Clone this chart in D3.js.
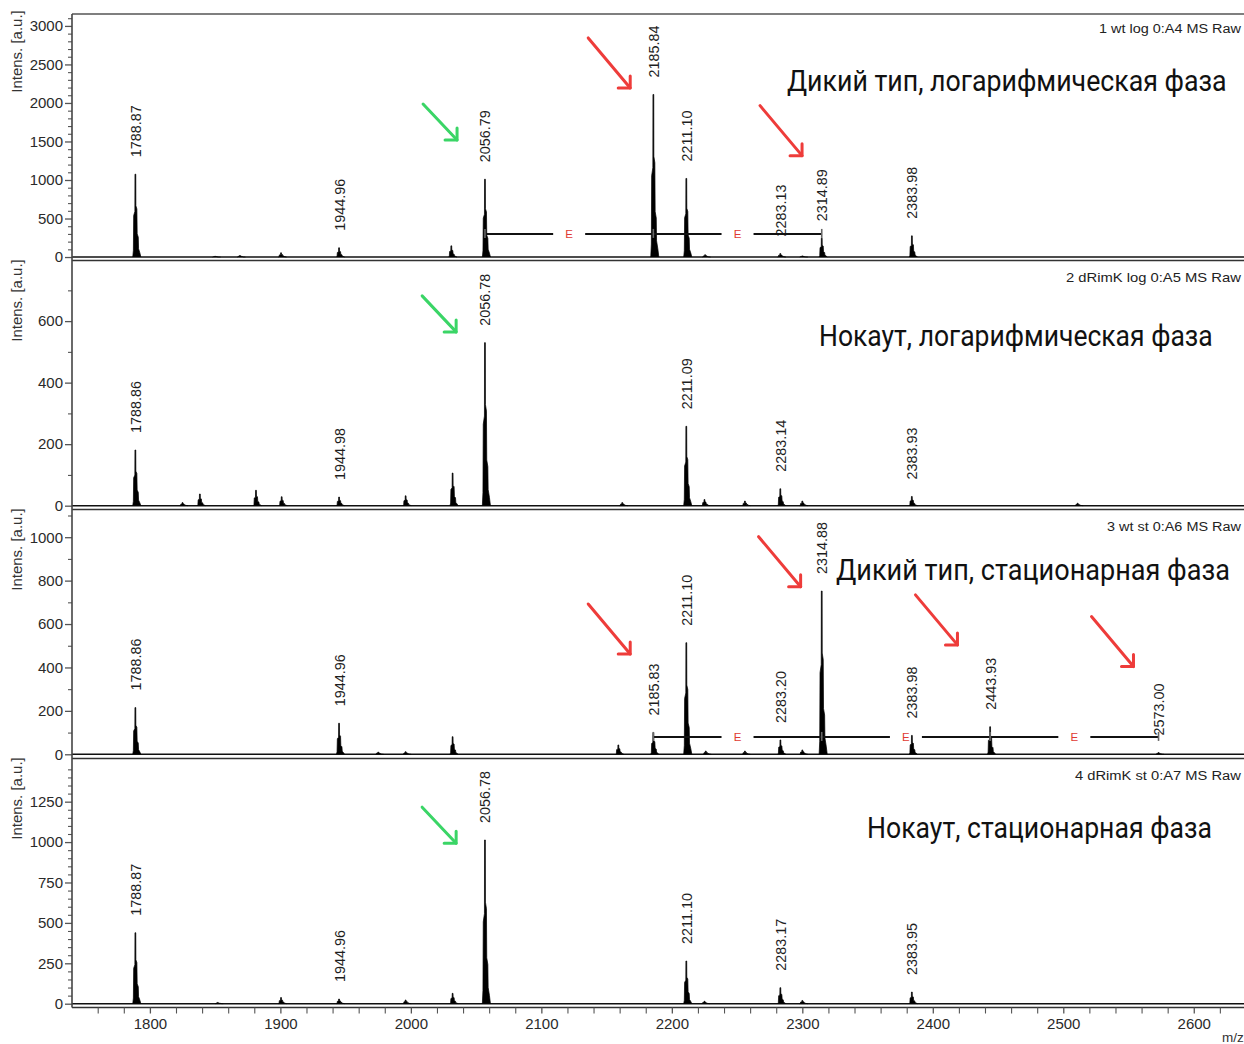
<!DOCTYPE html>
<html><head><meta charset="utf-8">
<script src="https://cdn.jsdelivr.net/npm/d3@7"></script>
<style>body{margin:0;background:#fff}svg{display:block}</style>
</head><body>
<script>
// ---------------- DATA ----------------
const panelHeaders = ["1 wt log 0:A4 MS Raw", "2 dRimK log 0:A5 MS Raw", "3 wt st 0:A6 MS Raw", "4 dRimK st 0:A7 MS Raw"];
const panelTitles = ["Дикий тип, логарифмическая фаза", "Нокаут, логарифмическая фаза", "Дикий тип, стационарная фаза", "Нокаут, стационарная фаза"];
const yAxisTitle = "Intens. [a.u.]";
const xAxisTitle = "m/z";

const xDomain = [1740.3, 2638.5];
const xMajorTicks = [1800, 1900, 2000, 2100, 2200, 2300, 2400, 2500, 2600];
const xMinorStep = 20;

const yMin = [-45, -12.4, -19.4, -23.5];
const yMax = [3191, 798, 1129, 1519];
const yMajorStep = [500, 200, 200, 250];
const yMajorLast = [3000, 600, 1000, 1250];
const yMinorStep = [100, 100, 100, 50];

// labelled peaks [m/z, intensity]
const peaks1 = [[1788.87, 1075], [1944.96, 120], [2056.79, 1010], [2185.84, 2110], [2211.10, 1020], [2283.13, 45], [2314.89, 245], [2383.98, 275]];
const peaks2 = [[1788.86, 181], [1944.98, 28], [2056.78, 530], [2211.09, 258], [2283.14, 55], [2383.93, 30]];
const peaks3 = [[1788.86, 215], [1944.96, 143], [2185.83, 100], [2211.10, 514], [2283.20, 66], [2314.88, 752], [2383.98, 87], [2443.93, 127], [2573.00, 8]];
const peaks4 = [[1788.87, 439], [1944.96, 29], [2056.78, 1013], [2211.10, 264], [2283.17, 99], [2383.95, 72]];

// small unlabelled peaks [m/z, intensity]
const minor1 = [[1869, 20], [1900.5, 55], [2031, 145], [2225.5, 30], [2300, 15], [1850, 10]];
const minor2 = [[1825, 10], [1838.3, 38], [1881.3, 50], [1901, 29], [1996, 32], [2032, 106], [2162, 10], [2225, 20], [2256, 15], [2300, 15], [2511, 8]];
const minor3 = [[1975, 10], [1996, 12], [2032, 81], [2159, 43], [2226, 15], [2256, 15], [2300, 20]];
const minor4 = [[1852, 8], [1900.5, 38], [1996, 23], [2032, 64], [2225, 15], [2300, 20]];

// mass-ladder brackets ("E" steps)
const ladder1 = [2056.79, 2185.84, 2314.89];
const ladder3 = [2185.83, 2314.88, 2443.93, 2573.00];
const ladderLevel = [300, null, 80, null];
const ladderLabel = "E";

// arrow tips [m/z, intensity, colour]
const arrows1 = [[2035.4, 1519, "green"], [2168.1, 2195, "red"], [2299.8, 1316, "red"]];
const arrows2 = [[2034.7, 565, "green"]];
const arrows3 = [[2168.1, 462, "red"], [2298.7, 772, "red"], [2418.9, 504, "red"], [2553.8, 404, "red"]];
const arrows4 = [[2034.7, 993, "green"]];

// ---------------- LAYOUT / STYLE ----------------
const W = 1244, H = 1044, LEFT = 72;
const PANEL_TOP0 = 11.2, PANEL_STEP = 249, PANEL_H = 249.3;
const titleLayout = [{right: 1227, base: 91, w: 440}, {right: 1213, base: 346, w: 394}, {right: 1230, base: 580, w: 394}, {right: 1212, base: 838, w: 345}];
const headerWidth = [142, 175, 134, 166];
const colors = {red: "#ee3c3a", green: "#3ad566"};
const GLYPH = [[-2.6, 0], [-2.0, 0.08], [-1.7, 0.5], [-0.5, 0.55], [-0.4, 1], [0.4, 1], [0.5, 0.62], [1.5, 0.58], [1.8, 0.28], [2.9, 0.24], [3.2, 0.1], [4.5, 0.05], [5.5, 0]];

const panels = [
  {peaks: peaks1, minor: minor1, ladder: ladder1, arrows: arrows1},
  {peaks: peaks2, minor: minor2, ladder: null, arrows: arrows2},
  {peaks: peaks3, minor: minor3, ladder: ladder3, arrows: arrows3},
  {peaks: peaks4, minor: minor4, ladder: null, arrows: arrows4}
];

const svg = d3.select("body").append("svg").attr("width", W).attr("height", H)
  .style("font-family", "'Liberation Sans', Arial, sans-serif");

const x = d3.scaleLinear().domain(xDomain).range([LEFT, W]);
const fmt = d3.format(".2f");
const intFmt = d3.format("d");

// fit a text to a width by horizontal scaling, right edge at `right`
function fitText(sel, right, base, width) {
  const nat = sel.node().getComputedTextLength();
  const sx = width / nat;
  sel.attr("x", 0).attr("y", 0)
     .attr("transform", `translate(${right - width},${base}) scale(${sx},1)`);
}

// top frame line
svg.append("line").attr("x1", LEFT).attr("x2", W).attr("y1", 14).attr("y2", 14)
  .attr("stroke", "#555").attr("stroke-width", 1.6);

panels.forEach((p, i) => {
  const T = PANEL_TOP0 + PANEL_STEP * i, B = T + PANEL_H;
  const y = d3.scaleLinear().domain([yMin[i], yMax[i]]).range([B, T]);
  const g = svg.append("g");

  // panel bottom line
  g.append("line").attr("x1", LEFT).attr("x2", W).attr("y1", B).attr("y2", B)
    .attr("stroke", "#333").attr("stroke-width", 1.6);

  // y axis
  const major = d3.range(0, yMajorLast[i] + 1, yMajorStep[i]);
  const minorT = d3.range(0, yMax[i], yMinorStep[i]).filter(v => v % yMajorStep[i] !== 0);
  const ax = g.append("g").attr("transform", `translate(${LEFT},0)`)
    .call(d3.axisLeft(y).tickValues(major).tickSize(7).tickPadding(2).tickFormat(intFmt));
  ax.select(".domain").remove();
  ax.selectAll("text").attr("font-size", 15).attr("fill", "#2a2a2a").attr("font-family", "'Liberation Sans', Arial, sans-serif");
  ax.selectAll("line").attr("stroke", "#555").attr("stroke-width", 1.3);
  const axm = g.append("g").attr("transform", `translate(${LEFT},0)`)
    .call(d3.axisLeft(y).tickValues(minorT).tickSize(4).tickFormat(""));
  axm.select(".domain").remove();
  axm.selectAll("line").attr("stroke", "#555").attr("stroke-width", 1.1);

  g.append("text").attr("transform", `translate(21.5,${T - 1}) rotate(-90)`)
    .attr("text-anchor", "end").attr("font-size", 15).attr("fill", "#333").text(yAxisTitle);

  // header
  const hd = g.append("text").attr("font-size", 13.5).attr("fill", "#222").text(panelHeaders[i]);
  fitText(hd, 1241, T + 22, headerWidth[i]);

  // baseline
  g.append("path").datum(xDomain)
    .attr("d", d3.line().x(d => x(d)).y(() => y(0)))
    .attr("stroke", "#111").attr("stroke-width", 1.6).attr("fill", "none");

  // peaks
  const pk = d3.line().x(d => d.cx + d.dx).y(d => d.yv);
  p.minor.concat(p.peaks).forEach(([mz, v]) => {
    const pts = GLYPH.map(([dx, f]) => ({cx: x(mz), dx: dx, yv: y(v * f)}));
    g.append("path").attr("d", pk(pts)).attr("fill", "#000").attr("stroke", "#000").attr("stroke-width", 0.7);
  });

  // peak labels
  p.peaks.forEach(([mz, v]) => {
    g.append("text")
      .attr("transform", `translate(${x(mz) + 5.5},${y(v) - 17}) rotate(-90)`)
      .attr("font-size", 14.4).attr("fill", "#1e1e1e").text(fmt(mz));
  });

  // ladder
  if (p.ladder) {
    const yl = y(ladderLevel[i]);
    for (let k = 0; k < p.ladder.length - 1; k++) {
      const xa = x(p.ladder[k]), xb = x(p.ladder[k + 1]), xm = (xa + xb) / 2;
      g.append("line").attr("x1", xa).attr("x2", xm - 16).attr("y1", yl).attr("y2", yl).attr("stroke", "#111").attr("stroke-width", 2);
      g.append("line").attr("x1", xm + 16).attr("x2", xb).attr("y1", yl).attr("y2", yl).attr("stroke", "#111").attr("stroke-width", 2);
      g.append("text").attr("x", xm).attr("y", yl + 4).attr("text-anchor", "middle")
        .attr("font-size", 11.5).attr("fill", "#e03a32").text(ladderLabel);
    }
    p.ladder.forEach(mz => {
      g.append("line").attr("x1", x(mz)).attr("x2", x(mz)).attr("y1", yl - 5).attr("y2", yl + 4)
        .attr("stroke", "#666").attr("stroke-width", 1.6);
    });
  }

  // arrows
  p.arrows.forEach(([mz, v, c]) => {
    const tx = x(mz), ty = y(v);
    const [dx, dy] = c === "red" ? [-42, -50] : [-34, -36];
    const col = colors[c];
    g.append("line").attr("x1", tx + dx).attr("y1", ty + dy).attr("x2", tx).attr("y2", ty)
      .attr("stroke", col).attr("stroke-width", 3).attr("stroke-linecap", "round");
    g.append("path").attr("d", `M${tx - 12},${ty}L${tx},${ty}L${tx},${ty - 12}`)
      .attr("stroke", col).attr("stroke-width", 3).attr("fill", "none")
      .attr("stroke-linecap", "round").attr("stroke-linejoin", "round");
  });

  // title
  const tl = titleLayout[i];
  const tt = g.append("text")
    .attr("font-family", "Roboto, 'Noto Sans', sans-serif").attr("font-size", 29).attr("fill", "#111")
    .text(panelTitles[i]);
  fitText(tt, tl.right, tl.base, tl.w);

  // x axis on last panel
  if (i === panels.length - 1) {
    const xa = g.append("g").attr("transform", `translate(0,${B})`)
      .call(d3.axisBottom(x).tickValues(xMajorTicks).tickSize(6).tickPadding(5).tickFormat(intFmt));
    xa.select(".domain").remove();
    xa.selectAll("text").attr("font-size", 15).attr("fill", "#2a2a2a").attr("font-family", "'Liberation Sans', Arial, sans-serif");
    xa.selectAll("line").attr("stroke", "#555").attr("stroke-width", 1.3);
    const minorX = d3.range(1760, xDomain[1], xMinorStep).filter(v => v % 100 !== 0);
    const xm = g.append("g").attr("transform", `translate(0,${B})`)
      .call(d3.axisBottom(x).tickValues(minorX).tickSize(6).tickFormat(""));
    xm.select(".domain").remove();
    xm.selectAll("line").attr("stroke", "#555").attr("stroke-width", 1.1);
    g.append("text").attr("x", 1222).attr("y", 1042).attr("font-size", 13.5).attr("fill", "#333").text(xAxisTitle);
  }
});

// left axis line
svg.append("line").attr("x1", LEFT).attr("x2", LEFT).attr("y1", 14).attr("y2", PANEL_TOP0 + PANEL_STEP * 3 + PANEL_H)
  .attr("stroke", "#444").attr("stroke-width", 1.6);
</script>
</body></html>
